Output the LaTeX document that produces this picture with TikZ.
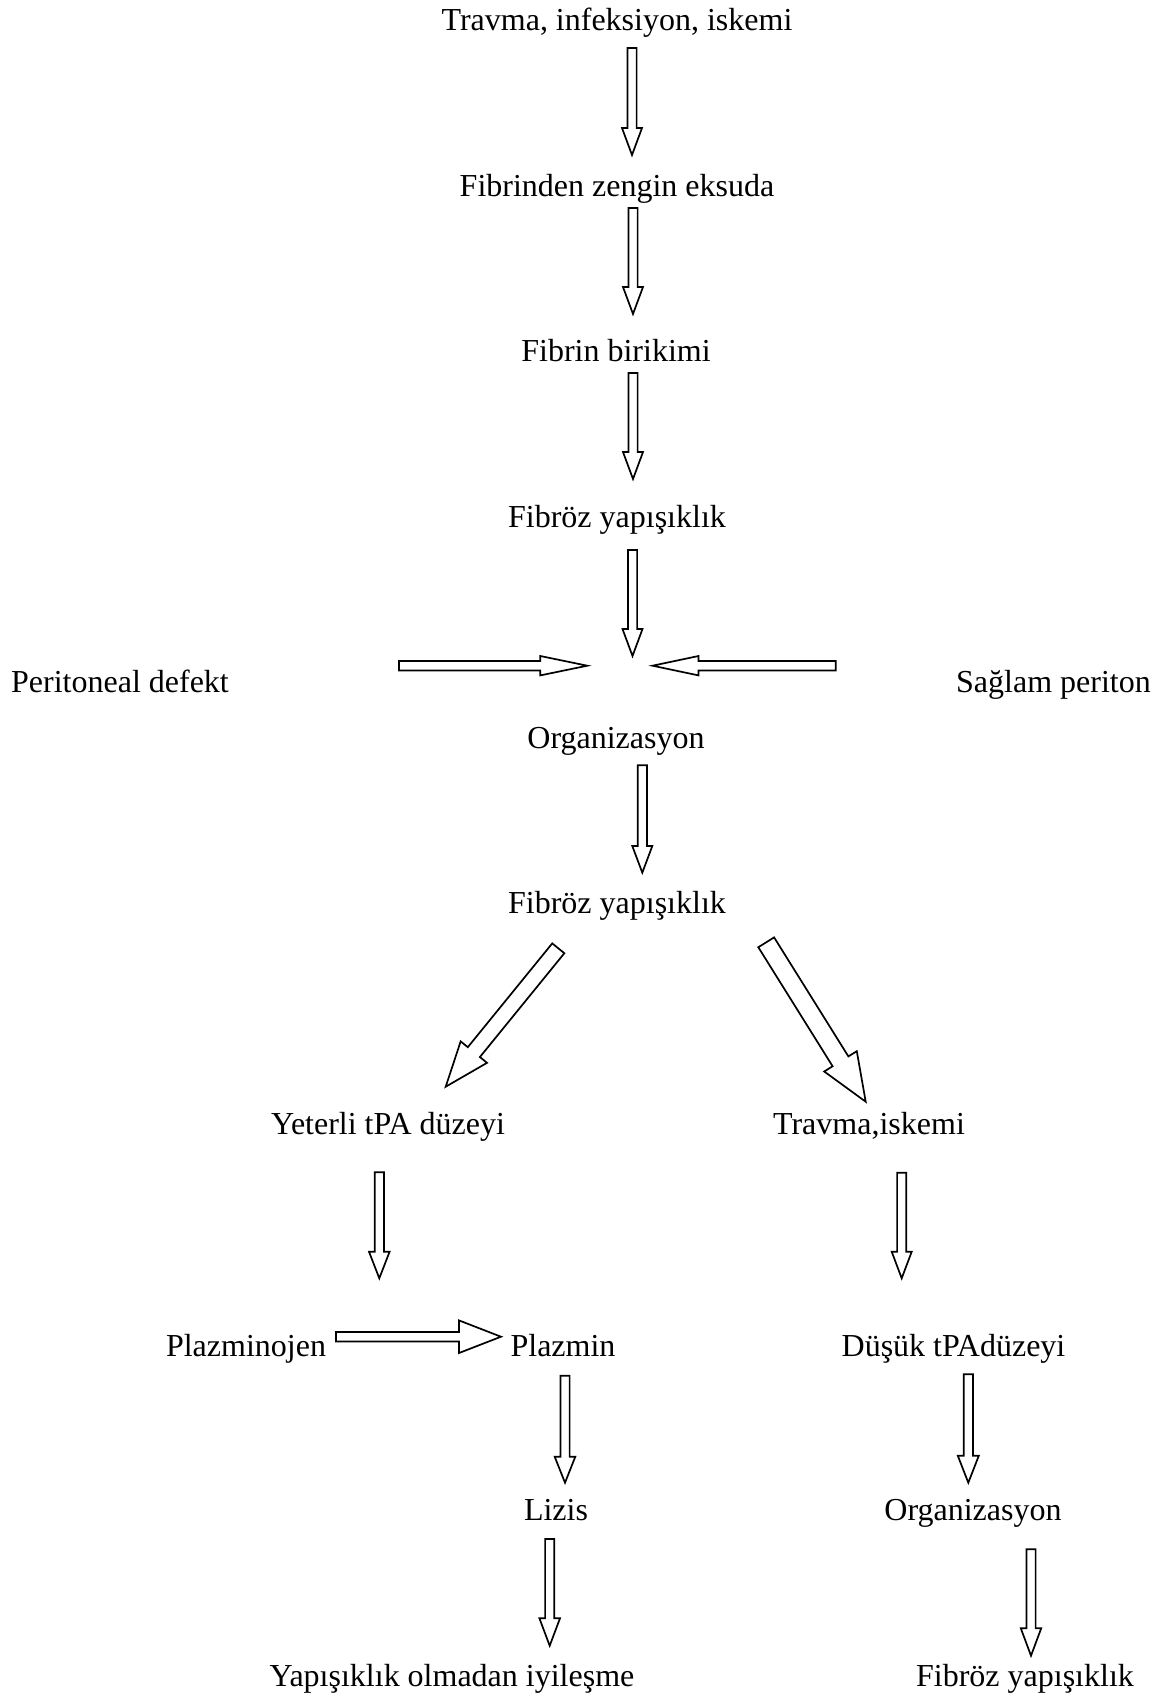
\documentclass[tikz,border=0pt]{standalone}
\usepackage{fontspec}
\setmainfont{Liberation Serif}
\usetikzlibrary{calc}
\tikzset{
  lbl/.style={anchor=base, inner sep=0pt, font=\fontsize{32}{38}\selectfont},
  blk/.style={draw=black, fill=white, line width=1.7pt, line join=miter}
}
% #1 tail coordinate, #2 tip coordinate, #3 shaft half-width, #4 head half-width, #5 head length
\newcommand\blkarrow[5]{%
  \coordinate (bahd) at ($(#2)!#5!(#1)$);
  \draw[blk] ($(#1)!#3!90:(#2)$) -- ($(bahd)!#3!90:(#2)$) -- ($(bahd)!#4!90:(#2)$) -- (#2)
     -- ($(bahd)!#4!-90:(#2)$) -- ($(bahd)!#3!-90:(#2)$) -- ($(#1)!#3!-90:(#2)$) -- cycle;
}
\begin{document}
\begin{tikzpicture}[x=1pt,y=-1pt]
\useasboundingbox[fill=white] (0,0) rectangle (1159,1697);

% texts
\node[lbl] (t1)  at (617,30)    {Travma, infeksiyon, iskemi};
\node[lbl] (t2)  at (617,196)   {Fibrinden zengin eksuda};
\node[lbl] (t3)  at (616,361)   {Fibrin birikimi};
\node[lbl] (t4)  at (617,527)   {Fibröz yapışıklık};
\node[lbl] (pd)  at (120,692)   {Peritoneal defekt};
\node[lbl] (sp)  at (1053.5,692) {Sağlam periton};
\node[lbl] (org) at (616,748)   {Organizasyon};
\node[lbl] (fy)  at (617,913)   {Fibröz yapışıklık};
\node[lbl] (ytp) at (388,1134)  {Yeterli tPA düzeyi};
\node[lbl] (tis) at (869,1134)  {Travma,iskemi};
\node[lbl] (plj) at (246,1356)  {Plazminojen};
\node[lbl] (plm) at (563,1356)  {Plazmin};
\node[lbl] (dtp) at (953.5,1356) {Düşük tPAdüzeyi};
\node[lbl] (liz) at (556,1520)  {Lizis};
\node[lbl] (org2) at (973,1520) {Organizasyon};
\node[lbl] (yoi) at (452,1686)  {Yapışıklık olmadan iyileşme};
\node[lbl] (fy2) at (1025,1686) {Fibröz yapışıklık};

% arrow end points
\coordinate (a1s) at (632,48);     \coordinate (a1e) at (632,155);
\coordinate (a2s) at (633,208);    \coordinate (a2e) at (633,314);
\coordinate (a3s) at (633,373);    \coordinate (a3e) at (633,479);
\coordinate (a4s) at (632.5,550);  \coordinate (a4e) at (632.5,656);
\coordinate (hls) at (399,665.7);  \coordinate (hle) at (587.3,665.7);
\coordinate (hrs) at (835.7,665.7); \coordinate (hre) at (652.5,665.7);
\coordinate (a5s) at (642.3,765.3); \coordinate (a5e) at (642.3,872.7);
\coordinate (dls) at (558.3,948.3); \coordinate (dle) at (445.7,1086.7);
\coordinate (drs) at (766.2,942.3); \coordinate (dre) at (865.7,1101.7);
\coordinate (a6s) at (379.3,1172.3); \coordinate (a6e) at (379.3,1278.3);
\coordinate (a7s) at (901.7,1172.7); \coordinate (a7e) at (901.7,1278.3);
\coordinate (hps) at (336,1336.7);  \coordinate (hpe) at (501,1336.7);
\coordinate (a8s) at (565,1375.7);  \coordinate (a8e) at (565,1482.7);
\coordinate (a9s) at (968.3,1374.3); \coordinate (a9e) at (968.3,1482.7);
\coordinate (a10s) at (549.7,1539); \coordinate (a10e) at (549.7,1645.7);
\coordinate (a11s) at (1031,1549.3); \coordinate (a11e) at (1031,1655.7);

% block arrows
\blkarrow{a1s}{a1e}{4.6pt}{10pt}{27pt}
\blkarrow{a2s}{a2e}{4.6pt}{10pt}{27pt}
\blkarrow{a3s}{a3e}{4.6pt}{10pt}{27pt}
\blkarrow{a4s}{a4e}{4.6pt}{10pt}{27pt}
\blkarrow{hls}{hle}{4.8pt}{9.7pt}{47pt}
\blkarrow{hrs}{hre}{4.8pt}{9.7pt}{46pt}
\blkarrow{a5s}{a5e}{4.6pt}{10pt}{26.7pt}
\blkarrow{dls}{dle}{7.8pt}{17pt}{44.6pt}
\blkarrow{drs}{dre}{9.3pt}{19.2pt}{47.6pt}
\blkarrow{a6s}{a6e}{4.6pt}{10.3pt}{26.6pt}
\blkarrow{a7s}{a7e}{4.6pt}{10pt}{26.6pt}
\blkarrow{hps}{hpe}{4.8pt}{16.3pt}{42pt}
\blkarrow{a8s}{a8e}{4.6pt}{10.3pt}{26pt}
\blkarrow{a9s}{a9e}{4.6pt}{10.5pt}{27pt}
\blkarrow{a10s}{a10e}{4.6pt}{10.3pt}{27.4pt}
\blkarrow{a11s}{a11e}{4.6pt}{10.2pt}{27.4pt}
\end{tikzpicture}
\end{document}
